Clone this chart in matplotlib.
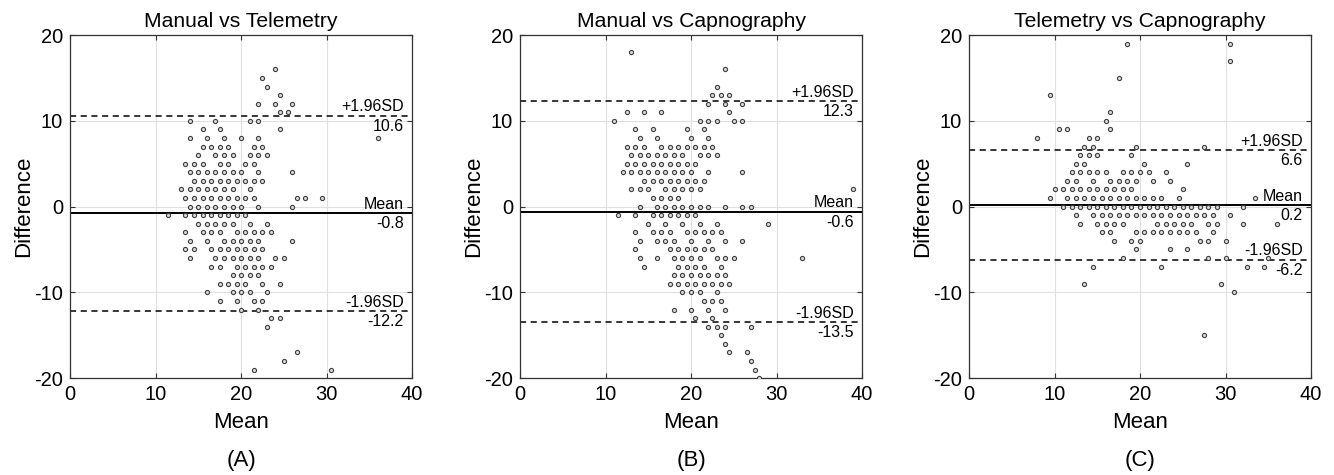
import matplotlib
matplotlib.use("Agg")
import matplotlib.pyplot as plt
import matplotlib.transforms as mtransforms

plt.rcParams['font.family'] = ['Liberation Sans', 'DejaVu Sans']
plt.rcParams['axes.unicode_minus'] = False

# difference value -> list of means at that difference
rows_a = {
    16: [24], 15: [22.5], 14: [23], 13: [24.5],
    12: [22, 24, 26], 11: [24.5, 25.5], 10: [14, 17, 21, 22],
    9: [15.5, 17.5, 24.5], 8: [14, 16, 18, 20, 22, 36],
    7: [15.5, 16.5, 17.5, 18.5, 21.5, 22.5],
    6: [15, 17, 18, 19, 21, 22, 23],
    5: [13.5, 14.5, 15.5, 17.5, 18.5, 20.5, 21.5],
    4: [14, 15, 16, 17, 18, 19, 20, 22, 26],
    3: [14.5, 15.5, 16.5, 17.5, 18.5, 19.5, 20.5, 21.5, 22.5],
    2: [13, 14, 15, 16, 17, 18, 19, 21],
    1: [13.5, 14.5, 15.5, 16.5, 17.5, 18.5, 19.5, 20.5, 21.5, 26.5, 27.5, 29.5],
    0: [14, 15, 16, 17, 18, 19, 20, 22, 26],
    -1: [11.5, 13.5, 14.5, 15.5, 16.5, 17.5, 18.5, 19.5, 20.5],
    -2: [15, 16, 17, 18, 19, 21, 23],
    -3: [13.5, 15.5, 16.5, 17.5, 19.5, 20.5, 21.5, 22.5, 23.5],
    -4: [14, 16, 18, 19, 20, 21, 22, 26],
    -5: [13.5, 14.5, 16.5, 17.5, 18.5, 19.5, 20.5, 21.5, 22.5],
    -6: [14, 17, 18, 19, 20, 21, 22, 24, 25],
    -7: [16.5, 17.5, 19.5, 20.5, 21.5, 22.5, 23.5],
    -8: [19, 20, 21, 22],
    -9: [17.5, 18.5, 19.5, 20.5, 22.5, 24.5],
    -10: [16, 19, 20, 21, 23],
    -11: [17.5, 19.5, 21.5, 22.5],
    -12: [20, 22], -13: [23.5, 24.5], -14: [23],
    -17: [26.5], -18: [25], -19: [21.5, 30.5],
}

rows_b = {
    18: [13], 16: [24], 14: [23], 13: [22.5, 23.5, 24.5],
    12: [22, 24, 26], 11: [12.5, 14.5, 16.5, 24.5],
    10: [11, 21, 22, 23, 25, 26], 9: [13.5, 15.5, 19.5, 21.5],
    8: [14, 16, 20, 22],
    7: [12.5, 13.5, 14.5, 16.5, 17.5, 18.5, 19.5, 20.5, 21.5, 22.5],
    6: [13, 14, 15, 16, 17, 18, 19, 21, 22, 23],
    5: [12.5, 13.5, 14.5, 15.5, 16.5, 17.5, 18.5, 19.5, 20.5],
    4: [12, 13, 14, 15, 16, 17, 18, 19, 20, 22, 26],
    3: [14.5, 15.5, 16.5, 17.5, 18.5, 19.5, 20.5, 21.5],
    2: [13, 14, 15, 17, 18, 19, 20, 21, 39],
    1: [15.5, 16.5, 17.5, 18.5],
    0: [14, 16, 17, 18, 19, 20, 21, 22, 24, 26, 27],
    -1: [11.5, 13.5, 15.5, 16.5, 17.5, 18.5, 19.5, 20.5],
    -2: [15, 17, 19, 21, 23, 29],
    -3: [13.5, 15.5, 16.5, 17.5, 19.5, 20.5, 21.5, 22.5, 23.5],
    -4: [14, 16, 17, 18, 20, 22, 24, 26],
    -5: [13.5, 17.5, 18.5, 19.5, 20.5, 21.5, 22.5],
    -6: [14, 16, 18, 19, 20, 21, 23, 24, 25, 33],
    -7: [14.5, 18.5, 19.5, 20.5, 21.5, 23.5],
    -8: [18, 19, 20, 21, 22, 23, 24],
    -9: [17.5, 18.5, 19.5, 20.5, 21.5, 22.5, 23.5, 24.5],
    -10: [19, 20, 21, 23], -11: [21.5, 22.5, 23.5],
    -12: [18, 20, 22, 24], -13: [20.5, 22.5], -14: [22, 23, 24, 27],
    -15: [23.5], -16: [24], -17: [24.5, 26.5], -18: [27], -19: [27.5], -20: [28],
}

rows_c = {
    19: [18.5, 30.5], 17: [30.5], 15: [17.5], 13: [9.5], 11: [16.5], 10: [16],
    9: [10.5, 11.5, 16.5], 8: [8, 14, 15], 7: [13.5, 14.5, 19.5, 27.5],
    6: [13, 14, 15, 19], 5: [12.5, 13.5, 20.5, 25.5],
    4: [12, 13, 14, 15, 16, 18, 19, 20, 21, 23],
    3: [11.5, 12.5, 14.5, 16.5, 17.5, 18.5, 19.5, 21.5, 23.5],
    2: [10, 11, 12, 13, 14, 15, 16, 17, 18, 19, 25],
    1: [9.5, 11.5, 12.5, 13.5, 14.5, 15.5, 16.5, 17.5, 18.5, 19.5, 20.5, 21.5,
        22.5, 24.5, 33.5],
    0: [11, 12, 13, 14, 15, 16, 17, 18, 19, 20, 21, 22, 23, 24, 25, 26, 27, 28,
        29, 32],
    -1: [12.5, 14.5, 15.5, 16.5, 17.5, 18.5, 19.5, 20.5, 21.5, 22.5, 23.5, 24.5,
         25.5, 26.5, 27.5, 28.5, 30.5],
    -2: [13, 15, 16, 17, 18, 22, 23, 24, 25, 26, 28, 29, 32, 36],
    -3: [15.5, 16.5, 19.5, 20.5, 21.5, 22.5, 23.5, 24.5, 25.5, 26.5, 28.5],
    -4: [17, 19, 20, 27, 28, 30],
    -5: [19.5, 23.5, 25.5],
    -6: [18, 28, 30, 35],
    -7: [14.5, 22.5, 32.5, 34.5],
    -9: [13.5, 29.5], -10: [31], -15: [27.5],
}

titles = ["Manual vs Telemetry", "Manual vs Capnography", "Telemetry vs Capnography"]
panel_tags = ["(A)", "(B)", "(C)"]
bias = [-0.8, -0.6, 0.2]
upper = [10.6, 12.3, 6.6]
lower = [-12.2, -13.5, -6.2]

fig = plt.figure(figsize=(13.34, 4.75), dpi=100)
lefts = [0.0525, 0.3898, 0.7264]

for i, rows in enumerate([rows_a, rows_b, rows_c]):
    ax = fig.add_axes([lefts[i], 0.204, 0.2564, 0.722])
    xs, ys = [], []
    for d, means in rows.items():
        for m in means:
            xs.append(m)
            ys.append(d)
    ax.plot(xs, ys, 'o', ms=3.0, mfc='#d8d8d8', mec='#404040', mew=0.8,
            linestyle='none', zorder=3)

    ax.axhline(bias[i], color='black', lw=1.4, zorder=2)
    ax.axhline(upper[i], color='black', lw=1.1, ls=(0, (4, 3)), zorder=2)
    ax.axhline(lower[i], color='black', lw=1.1, ls=(0, (4, 3)), zorder=2)

    tr = mtransforms.blended_transform_factory(ax.transAxes, ax.transData)
    for top, val in [("+1.96SD", upper[i]), ("Mean", bias[i]), ("-1.96SD", lower[i])]:
        ax.annotate(top, xy=(1, val), xycoords=tr, xytext=(-6, 1),
                    textcoords='offset points', ha='right', va='bottom', fontsize=11.5)
        ax.annotate("%.1f" % val, xy=(1, val), xycoords=tr, xytext=(-6, -2),
                    textcoords='offset points', ha='right', va='top', fontsize=11.5)

    ax.set_xlim(0, 40)
    ax.set_ylim(-20, 20)
    ax.set_xticks([0, 10, 20, 30, 40])
    ax.set_yticks([-20, -10, 0, 10, 20])
    ax.grid(True, color='#e0e0e0', lw=0.8)
    ax.set_axisbelow(True)
    ax.tick_params(direction='in', top=True, right=True, length=3.5, width=0.8,
                   labelsize=14.5, color='#333333', pad=5)
    for s in ax.spines.values():
        s.set_color('#333333')
        s.set_linewidth(0.9)
    ax.set_title(titles[i], fontsize=15.2, pad=6)
    ax.set_xlabel("Mean", fontsize=16, labelpad=6)
    ax.set_ylabel("Difference", fontsize=16, labelpad=0)
    ax.text(0.5, -0.24, panel_tags[i], transform=ax.transAxes, ha='center',
            va='center', fontsize=16)

fig.savefig("out.png", dpi=100)
